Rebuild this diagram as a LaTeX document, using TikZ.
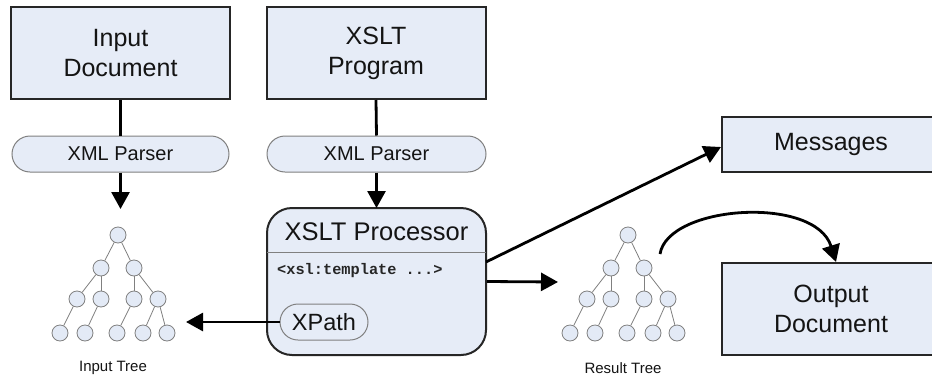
\documentclass[tikz,border=0pt]{standalone}
\usepackage{fontspec}
\setmainfont{Liberation Sans}
\setmonofont{Liberation Mono}
\usetikzlibrary{arrows.meta}
\definecolor{boxfill}{RGB}{230,236,247}
\definecolor{nodefill}{RGB}{227,234,246}
\definecolor{edgegray}{RGB}{128,128,128}
\definecolor{txt}{RGB}{20,20,20}
\tikzset{
  docbox/.style={draw=black!85, line width=2pt, fill=boxfill, minimum width=219pt, minimum height=92pt,
     align=center, font=\fontsize{25}{30}\selectfont, text=txt, inner sep=0pt},
  pill/.style={draw=edgegray, line width=1pt, fill=boxfill, rounded corners=18pt, minimum height=36pt,
     inner sep=0pt, text=txt},
  tnode/.style={circle, draw=edgegray, line width=0.8pt, fill=nodefill, minimum size=16pt, inner sep=0pt},
  tedge/.style={draw=edgegray, line width=0.8pt},
  flow/.style={line width=2.8pt, -{Triangle[length=17pt,width=18pt]}},
  plain/.style={line width=2.8pt},
  lbl/.style={font=\fontsize{15}{17}\selectfont, text=txt}
}
\begin{document}
\begin{tikzpicture}[x=1pt,y=-1pt]
\useasboundingbox[fill=white] (0,0) rectangle (932,378);

% top documents
\node[docbox] (indoc) at (120.5,53) {Input\\Document};
\node[docbox] (xprog) at (376,53) {XSLT\\Program};

% parsers
\node[pill, minimum width=217pt, font=\fontsize{20}{22}\selectfont] (p1) at (120.5,154) {XML Parser};
\node[pill, minimum width=219pt, font=\fontsize{20}{22}\selectfont] (p2) at (376.5,154) {XML Parser};

% processor
\node[draw=black!85, line width=2pt, fill=boxfill, rounded corners=25pt, minimum width=219pt,
      minimum height=147pt, inner sep=0pt] (proc) at (376.5,281.5) {};
\coordinate (sepL) at (267,252);
\coordinate (sepR) at (486,252);
\draw[edgegray, line width=1pt] (sepL) -- (sepR);
\node[font=\fontsize{25.5}{28}\selectfont, text=txt] (ptitle) at (376.5,232) {XSLT Processor};
\node[anchor=west, font=\fontsize{15.3}{17}\ttfamily\bfseries, text=black!85, inner sep=0pt] (tmpl) at (277,271) {<xsl:template ...>};
\node[pill, minimum width=88pt, font=\fontsize{23.5}{26}\selectfont] (xpath) at (324,322) {XPath};

% right boxes
\node[docbox, minimum width=218pt, minimum height=55pt] (msg) at (831,144.5) {Messages};
\node[docbox, minimum width=218pt] (outdoc) at (831,309) {Output\\Document};

% trees
\foreach \p/\dx in {it/0, rt/510}{
  \node[tnode] (\p r)  at (118+\dx,235) {};
  \node[tnode] (\p a)  at (101+\dx,268) {};
  \node[tnode] (\p b)  at (134+\dx,268) {};
  \node[tnode] (\p aa) at (77+\dx,299) {};
  \node[tnode] (\p ab) at (101+\dx,299) {};
  \node[tnode] (\p ba) at (134+\dx,299) {};
  \node[tnode] (\p bb) at (158+\dx,299) {};
  \node[tnode] (\p x1) at (60+\dx,333) {};
  \node[tnode] (\p x2) at (85+\dx,333) {};
  \node[tnode] (\p x3) at (117+\dx,333) {};
  \node[tnode] (\p x4) at (143+\dx,333) {};
  \node[tnode] (\p x5) at (167+\dx,333) {};
  \path[tedge] (\p r) -- (\p a);
  \path[tedge] (\p r) -- (\p b);
  \path[tedge] (\p a) -- (\p aa);
  \path[tedge] (\p a) -- (\p ab);
  \path[tedge] (\p b) -- (\p ba);
  \path[tedge] (\p b) -- (\p bb);
  \path[tedge] (\p aa) -- (\p x1);
  \path[tedge] (\p ab) -- (\p x2);
  \path[tedge] (\p ba) -- (\p x3);
  \path[tedge] (\p bb) -- (\p x4);
  \path[tedge] (\p bb) -- (\p x5);
}
\node[lbl] (itlbl) at (113,368) {Input Tree};
\node[lbl] (rtlbl) at (623,368) {Result Tree};

% connectors
\coordinate (t1) at (120.5,209);
\coordinate (t2) at (376.5,208);
\coordinate (itin) at (186,322);
\coordinate (rtin) at (558,282);
\coordinate (msgstart) at (486,262);
\coordinate (curvestart) at (660,254);
\draw[plain] (indoc.south) -- (p1.north);
\draw[flow] (p1.south) -- (t1);
\draw[plain] (xprog.south) -- (p2.north);
\draw[flow] (p2.south) -- (t2);
\draw[flow] (xpath.west) -- (itin);
\draw[flow] (proc.east) -- (rtin);
\draw[flow] (msgstart) -- (msg.west |- 0,147);
\draw[flow] (curvestart) .. controls (668,205) and (815,195) .. ([xshift=5pt]outdoc.north);
\end{tikzpicture}
\end{document}
